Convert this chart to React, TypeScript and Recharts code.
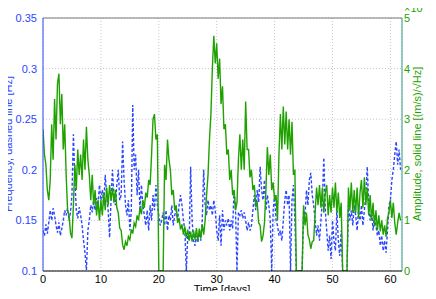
import {
  CartesianGrid,
  ComposedChart,
  Line,
  ReferenceLine,
  XAxis,
  YAxis,
} from "recharts";

// one sample every 6 hours, starting at day 0
const STEP_DAYS = 0.25;

// frequency [Hz], dashed blue line
const freqHz = [
  0.14, 0.135, 0.146, 0.137, 0.148, 0.16, 0.15, 0.162,
  0.155, 0.145, 0.138, 0.148, 0.135, 0.142, 0.15, 0.16,
  0.155, 0.162, 0.15, 0.158, 0.175, 0.235, 0.19, 0.16,
  0.152, 0.163, 0.155, 0.145, 0.13, 0.118, 0.101, 0.14,
  0.15, 0.165, 0.158, 0.17, 0.16, 0.172, 0.165, 0.185,
  0.17, 0.18, 0.165, 0.195, 0.175, 0.16, 0.133, 0.17,
  0.2, 0.175, 0.165, 0.185, 0.2, 0.17, 0.175, 0.228,
  0.19, 0.165, 0.155, 0.17, 0.14, 0.16, 0.264, 0.2,
  0.215, 0.175, 0.2, 0.16, 0.185, 0.165, 0.155, 0.145,
  0.16, 0.14, 0.165, 0.15, 0.175, 0.16, 0.185, 0.165,
  0.155, 0.145, 0.15, 0.158, 0.145, 0.16, 0.14, 0.155,
  0.15, 0.165, 0.145, 0.155, 0.16, 0.15, 0.165, 0.175,
  0.165, 0.15, 0.14, 0.1, 0.135, 0.13, 0.203, 0.15,
  0.13, 0.125, 0.135, 0.128, 0.14, 0.13, 0.15, 0.2,
  0.165, 0.155, 0.17, 0.16, 0.165, 0.155, 0.17, 0.16,
  0.14, 0.13, 0.155, 0.125, 0.16, 0.14, 0.15, 0.145,
  0.152, 0.14, 0.15, 0.142, 0.18, 0.16, 0.1, 0.158,
  0.155, 0.16, 0.152, 0.158, 0.15, 0.14, 0.148, 0.14,
  0.145, 0.16, 0.175, 0.16, 0.18, 0.168, 0.203, 0.18,
  0.17, 0.19, 0.16, 0.175, 0.165, 0.15, 0.1, 0.16,
  0.175, 0.15, 0.145, 0.135, 0.14, 0.13, 0.15, 0.17,
  0.18, 0.165, 0.175, 0.1, 0.17, 0.185, 0.15, 0.1,
  0.1, 0.1, 0.1, 0.1, 0.16, 0.155, 0.18, 0.165,
  0.19, 0.197, 0.175, 0.165, 0.15, 0.135, 0.145, 0.13,
  0.15, 0.17, 0.212, 0.16, 0.14, 0.12, 0.135, 0.112,
  0.15, 0.13, 0.12, 0.16, 0.13, 0.115, 0.14, 0.1,
  0.1, 0.1, 0.1, 0.165, 0.15, 0.16, 0.145, 0.165,
  0.155, 0.14, 0.16, 0.15, 0.165, 0.145, 0.16, 0.175,
  0.203, 0.165, 0.15, 0.16, 0.14, 0.155, 0.145, 0.135,
  0.14, 0.125, 0.135, 0.12, 0.13, 0.118, 0.14, 0.165,
  0.17, 0.19, 0.2, 0.215, 0.228, 0.205, 0.22, 0.2,
];

// amplitude in units of 1e-6 (m/s)/sqrt(Hz), solid green line
const amplitude = [
  2.8, 2.3, 2.1, 1.6, 1.4, 1.8, 2.9, 2.2,
  3.4, 2.6, 3.7, 3.9, 2.9, 3.5, 2.4, 2.9,
  1.9, 1.2, 1.1, 0.75, 0.65, 1.3, 2.1, 1.6,
  2.4, 1.9, 2.3, 1.8, 2.6, 2.0, 2.85, 2.2,
  1.9, 1.4, 1.9, 1.3, 1.6, 1.1, 1.4, 1.0,
  1.4, 1.1, 1.55, 1.2, 1.65, 1.3, 1.7, 1.4,
  1.65, 1.35, 1.6, 1.25, 1.15, 0.85, 0.8, 0.52,
  0.42, 0.58, 0.5, 0.68, 0.62, 0.82, 0.74, 0.95,
  0.88, 1.1, 1.0, 1.25, 1.12, 1.4, 1.25, 1.55,
  1.45, 1.8, 1.7, 2.3, 3.0, 3.1, 2.6, 2.7,
  0, 0, 0, 0, 2.1, 1.8, 2.6, 2.2,
  2.0, 1.5, 1.6, 1.2, 1.3, 0.95, 1.05, 0.82,
  0.92, 0.72, 0.88, 0.65, 0.82, 0.6, 0.78, 0.58,
  0.8, 0.62, 0.85, 0.6, 0.84, 0.64, 0.92, 0.72,
  1.0, 1.5, 1.9, 2.6, 3.1, 4.0, 4.65, 4.1,
  4.5, 3.8, 4.2, 3.3, 3.65, 2.8, 2.9, 2.3,
  2.4, 1.8, 2.0, 1.5, 1.6, 1.2, 1.35, 2.2,
  2.7, 2.0, 2.6, 2.0, 3.35, 2.4, 2.4, 1.85,
  2.0, 1.6, 1.7, 1.3, 1.35, 0.95, 0.9, 0.58,
  0.7, 0.95, 1.6, 2.45, 1.9, 2.3, 1.6, 1.75,
  1.4, 1.5, 1.0, 2.3, 3.1, 2.4, 3.25, 2.5,
  3.15, 2.4, 3.0, 2.3, 2.95, 1.9, 2.0, 0,
  0, 0, 0, 0, 1.3, 0.9, 1.15, 0.72,
  0.62, 0.44, 0.58, 0.6, 1.15, 1.65, 1.3, 1.7,
  1.25, 1.65, 1.15, 1.55, 1.7, 1.1, 1.5, 1.15,
  1.65, 1.25, 1.75, 1.15, 1.55, 1.05, 1.35, 0,
  0, 0, 0, 1.65, 1.2, 1.75, 1.15, 1.6,
  1.15, 1.65, 1.05, 1.55, 1.8, 1.25, 1.85, 1.3,
  1.65, 1.1, 1.5, 1.0, 1.35, 0.88, 1.2, 0.8,
  1.1, 0.78, 1.0, 0.72, 0.9, 0.68, 1.05, 1.15,
  1.4, 1.05, 1.35, 0.95, 0.72, 0.95, 1.15, 1.0,
];

const dayTicks = [0, 10, 20, 30, 40, 50, 60];
const freqTicks = [0.1, 0.15, 0.2, 0.25, 0.3, 0.35];
const amplTicks = [0, 1, 2, 3, 4, 5];

const BLUE = "#2a46ff";
const GREEN = "#1fa200";
const FONT = "'Liberation Sans', Arial, sans-serif";

const freqData = freqHz.map((f, i) => ({ t: i * STEP_DAYS, f }));
const amplData = amplitude.map((a, i) => ({ t: i * STEP_DAYS, a }));

export default function App() {
  // pull the chart over the body margin so it fills the whole window
  return (
    <div style={{ margin: -8, width: 436, height: 299, fontFamily: FONT }}>
      <ComposedChart
        width={436}
        height={299}
        margin={{ top: 18, right: 0, bottom: 0, left: 8 }}
      >
        <CartesianGrid yAxisId="f" stroke="#c6c6d4" strokeDasharray="1 2" />
        <XAxis
          dataKey="t"
          type="number"
          domain={[0, 62]}
          ticks={dayTicks}
          allowDataOverflow
          height={28}
          tickLine={false}
          tickSize={2}
          tickMargin={2}
          axisLine={{ stroke: "#000" }}
          tick={{ fill: "#000", fontSize: 11, fontFamily: FONT }}
        />
        <YAxis
          yAxisId="f"
          domain={[0.1, 0.35]}
          ticks={freqTicks}
          allowDataOverflow
          width={35}
          tickLine={false}
          tickSize={4}
          tickMargin={2}
          axisLine={{ stroke: BLUE }}
          tick={{ fill: BLUE, fontSize: 11, fontFamily: FONT }}
        />
        <YAxis
          yAxisId="a"
          orientation="right"
          domain={[0, 5]}
          ticks={amplTicks}
          allowDataOverflow
          width={34}
          tickLine={false}
          tickSize={2}
          tickMargin={0}
          axisLine={{ stroke: "#2f9c88" }}
          tick={{ fill: GREEN, fontSize: 11, fontFamily: FONT }}
        />
        <ReferenceLine yAxisId="f" y={0.35} stroke="#7a7a7a" />
        <Line
          yAxisId="f"
          data={freqData}
          dataKey="f"
          type="linear"
          stroke={BLUE}
          strokeWidth={1.4}
          strokeDasharray="3 2"
          dot={false}
          isAnimationActive={false}
        />
        <Line
          yAxisId="a"
          data={amplData}
          dataKey="a"
          type="linear"
          stroke={GREEN}
          strokeWidth={1.4}
          dot={false}
          isAnimationActive={false}
        />
        <text
          x={12}
          y={144}
          transform="rotate(-90 12 144)"
          textAnchor="middle"
          fill={BLUE}
          fontSize={11}
          fontFamily={FONT}
        >
          Frequency, dashed line [Hz]
        </text>
        <text
          x={421}
          y={144}
          transform="rotate(-90 421 144)"
          textAnchor="middle"
          fill={GREEN}
          fontSize={11}
          fontFamily={FONT}
        >
          Amplitude, solid line [(m/s)/√Hz]
        </text>
        <text
          x={222}
          y={293}
          textAnchor="middle"
          fill="#000"
          fontSize={11}
          fontFamily={FONT}
        >
          Time [days]
        </text>
        <text x={404} y={12} fill={GREEN} fontSize={11} fontFamily={FONT}>
          ×10
          <tspan dy={-5} fontSize={8}>
            −6
          </tspan>
        </text>
      </ComposedChart>
    </div>
  );
}
